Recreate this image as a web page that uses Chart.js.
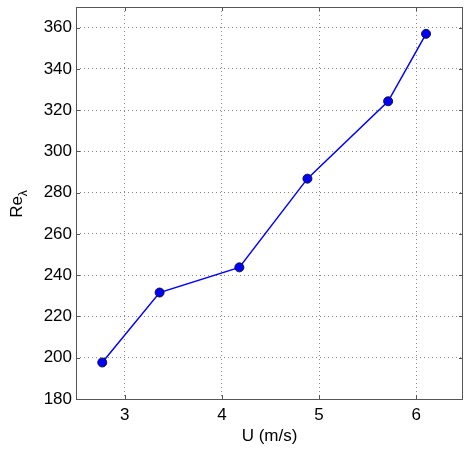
<!DOCTYPE html>
<html>
<head>
<meta charset="utf-8">
<script src="https://cdn.jsdelivr.net/npm/chart.js@4"></script>
<style>
  html, body { margin: 0; padding: 0; background: #fff; }
  #wrap { width: 464px; height: 451px; }
</style>
</head>
<body>
<div id="wrap"><canvas id="reChart" width="464" height="451"></canvas></div>
<script>
"use strict"
// data
const speeds = [2.77, 3.36, 4.18, 4.88, 5.71, 6.10];      // U (m/s)
const reLambda = [197.7, 231.6, 243.8, 286.8, 324.3, 357.0]; // Re_lambda
const xTicks = [3, 4, 5, 6];
const yTicks = [180, 200, 220, 240, 260, 280, 300, 320, 340, 360];

const FONT = "'Liberation Sans', Arial, sans-serif";
const frameColor = "#555";

// box round the plot + inward tick marks, like matlab
const framePlugin = {
    id: "frame",
    afterDatasetsDraw(chart) {
        const ctx = chart.ctx;
        const a = chart.chartArea;
        const xs = chart.scales.x;
        const ys = chart.scales.y;
        ctx.save();
        ctx.strokeStyle = frameColor;
        ctx.lineWidth = 1;
        ctx.beginPath();
        xTicks.forEach(t => {
            const px = Math.round(xs.getPixelForValue(t)) + 0.5;
            ctx.moveTo(px, a.bottom); ctx.lineTo(px, a.bottom - 4);
            ctx.moveTo(px, a.top); ctx.lineTo(px, a.top + 4);
        });
        yTicks.forEach(t => {
            const py = Math.round(ys.getPixelForValue(t)) + 0.5;
            ctx.moveTo(a.left, py); ctx.lineTo(a.left + 4, py);
            ctx.moveTo(a.right, py); ctx.lineTo(a.right - 4, py);
        });
        ctx.stroke();
        ctx.strokeRect(Math.round(a.left) + 0.5, Math.round(a.top) + 0.5,
            Math.round(a.right - a.left) - 1, Math.round(a.bottom - a.top));
        ctx.restore();
    },
    afterDraw(chart) {
        // y label Re with subscript lambda
        const ctx = chart.ctx;
        const a = chart.chartArea;
        ctx.save();
        ctx.translate(22, (a.top + a.bottom) / 2);
        ctx.rotate(-Math.PI / 2);
        ctx.fillStyle = "#000";
        ctx.textBaseline = "alphabetic";
        ctx.font = "17px " + FONT;
        const w = ctx.measureText("Re").width;
        ctx.fillText("Re", -w / 2 - 4, 0);
        ctx.font = "12px " + FONT;
        ctx.fillText("λ", w / 2 - 4, 5);
        ctx.restore();
    }
};

const ctx = document.getElementById("reChart").getContext("2d");
new Chart(ctx, {
    type: "line",
    data: {
        datasets: [{
            data: speeds.map((u, i) => ({ x: u, y: reLambda[i] })),
            borderColor: "#0000ff",
            borderWidth: 1.5,
            backgroundColor: "#0000ff",
            pointRadius: 4.5,
            pointBorderColor: "#111133",
            pointBorderWidth: 1,
            tension: 0
        }]
    },
    options: {
        responsive: false,
        animation: false,
        layout: { autoPadding: false, padding: { top: 7, right: 1, left: 0, bottom: 0 } },
        plugins: { legend: { display: false }, tooltip: { enabled: false } },
        scales: {
            x: {
                type: "linear",
                min: 2.5,
                max: 6.48,
                afterBuildTicks: s => { s.ticks = xTicks.map(v => ({ value: v })); },
                afterFit: s => { s.height = 52; s.paddingLeft = 0; s.paddingRight = 0; },
                grid: { color: "#888", drawTicks: false },
                border: { display: false, dash: [1, 3] },
                ticks: { color: "#000", font: { family: FONT, size: 17 }, padding: 6, maxRotation: 0 },
                title: { display: true, text: "U (m/s)", color: "#000", font: { family: FONT, size: 17 }, padding: { top: 0 } }
            },
            y: {
                type: "linear",
                min: 180,
                max: 370,
                afterBuildTicks: s => { s.ticks = yTicks.map(v => ({ value: v })); },
                afterFit: s => { s.width = 76; s.paddingTop = 0; s.paddingBottom = 0; },
                grid: { color: "#888", drawTicks: false },
                border: { display: false, dash: [1, 3] },
                ticks: { color: "#000", font: { family: FONT, size: 17 }, padding: 4 }
            }
        }
    },
    plugins: [framePlugin]
});
</script>
</body>
</html>
